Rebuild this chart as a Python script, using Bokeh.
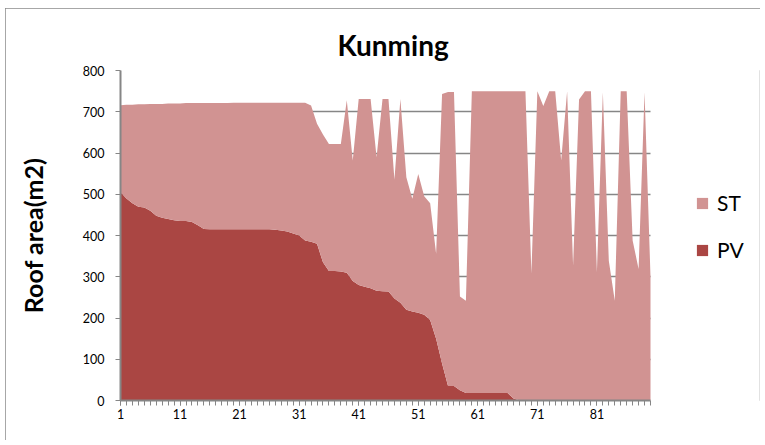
from bokeh.plotting import figure
from bokeh.models import ColumnDataSource, Range1d, FixedTicker, Legend, LegendItem
from bokeh.embed import file_html
from bokeh.resources import INLINE

# ---- data ----
x_index = list(range(1, 91))
PV = [505, 490, 478, 470, 468, 460, 448, 443, 440, 437,
      435, 435, 433, 425, 416, 415, 415, 415, 415, 415,
      415, 415, 415, 415, 415, 415, 414, 412, 410, 405,
      400, 388, 385, 380, 335, 314, 314, 313, 310, 290,
      280, 276, 272, 266, 265, 264, 247, 237, 220, 216,
      213, 208, 195, 150, 90, 35, 35, 25, 18, 18,
      18, 18, 18, 18, 18, 18, 5, 0, 0, 0,
      0, 0, 0, 0, 0, 0, 0, 0, 0, 0,
      0, 0, 0, 0, 0, 0, 0, 0, 0, 0]
ST = [211, 227, 239, 248, 250, 259, 271, 276, 280, 283,
      285, 286, 288, 296, 305, 306, 306, 306, 306, 307,
      307, 307, 307, 307, 307, 307, 308, 310, 312, 317,
      322, 334, 330, 291, 310, 308, 308, 309, 418, 292,
      451, 455, 459, 324, 466, 467, 288, 494, 321, 273,
      336, 287, 283, 206, 653, 713, 713, 227, 224, 732,
      732, 732, 732, 732, 732, 732, 745, 750, 750, 308,
      750, 714, 750, 750, 582, 750, 327, 730, 750, 750,
      311, 747, 339, 242, 750, 750, 388, 319, 747, 300]
x_tick_values = [1, 11, 21, 31, 41, 51, 61, 71, 81]
x_tick_labels = ["1", "11", "21", "31", "41", "51", "61", "71", "81"]
y_ticks = [0, 100, 200, 300, 400, 500, 600, 700, 800]
series_colors = {"ST": "#D19392", "PV": "#AA4643"}

source = ColumnDataSource(data=dict(x=x_index, PV=PV, ST=ST))

FONT = "Lato"
GRAY = "#868686"

# layout (pixels)
W, H = 755, 432
LEFT, RIGHT, TOP, BOTTOM = 115, 1, 62, 40
DATA_PX = 530                      # pixel width of the data span
frame_w = W - LEFT - RIGHT
x0, x1 = x_index[0], x_index[-1]
x_end = x0 + (x1 - x0) * frame_w / DATA_PX

p = figure(width=W, height=H, output_backend="svg", toolbar_location=None,
           x_range=Range1d(x0, x_end), y_range=Range1d(0, 800),
           min_border_left=LEFT, min_border_right=RIGHT, min_border_top=TOP,
           min_border_bottom=BOTTOM, title="Kunming")
p.styles = {"outline": "1px solid #8a8a8a", "outline-offset": "-1px",
            "margin-left": "5px", "margin-top": "8px"}

p.title.align = "left"
p.title.offset = 217
p.title.standoff = 17
p.title.text_font = FONT
p.title.text_font_size = "28px"
p.title.text_font_style = "bold"
p.title.text_color = "black"

p.outline_line_color = None
p.background_fill_color = "white"
p.border_fill_color = "white"

renderers = p.varea_stack(["PV", "ST"], x="x", source=source,
                          color=[series_colors["PV"], series_colors["ST"]])

# grid
p.xgrid.grid_line_color = None
p.ygrid.ticker = FixedTicker(ticks=y_ticks)
p.ygrid.grid_line_color = GRAY
p.ygrid.grid_line_width = 1.5
p.ygrid.cross_bounds = (x0, x1)

# y axis
p.yaxis.ticker = FixedTicker(ticks=y_ticks)
p.yaxis.axis_label = "Roof area(m2)"
p.yaxis.axis_label_text_font = FONT
p.yaxis.axis_label_text_font_size = "25px"
p.yaxis.axis_label_text_font_style = "bold"
p.yaxis.axis_label_text_color = "black"
p.yaxis.axis_label_standoff = 32
p.yaxis.major_label_text_font = FONT
p.yaxis.major_label_text_font_size = "12.5px"
p.yaxis.major_label_text_color = "black"
p.yaxis.major_label_standoff = 11
p.yaxis.axis_line_color = GRAY
p.yaxis.axis_line_width = 2
p.yaxis.major_tick_line_color = GRAY
p.yaxis.major_tick_out = 5
p.yaxis.major_tick_in = 0
p.yaxis.minor_tick_line_color = None

# x axis
p.xaxis.bounds = (x0, x1)
p.xaxis.ticker = FixedTicker(ticks=x_tick_values, minor_ticks=x_index)
p.xaxis.major_label_overrides = {v: l for v, l in zip(x_tick_values, x_tick_labels)}
p.xaxis.major_label_text_font = FONT
p.xaxis.major_label_text_font_size = "12.5px"
p.xaxis.major_label_text_color = "black"
p.xaxis.major_label_standoff = 3
p.xaxis.axis_line_color = GRAY
p.xaxis.axis_line_width = 2
p.xaxis.major_tick_line_color = GRAY
p.xaxis.minor_tick_line_color = GRAY
p.xaxis.major_tick_out = 5
p.xaxis.major_tick_in = 0
p.xaxis.minor_tick_out = 5
p.xaxis.minor_tick_in = 0

legend = Legend(items=[LegendItem(label="ST", renderers=[renderers[1]]),
                       LegendItem(label="PV", renderers=[renderers[0]])],
                location=(575, 138), orientation="vertical",
                glyph_width=14, glyph_height=14, label_height=20,
                spacing=22, padding=0, margin=0, label_standoff=8,
                label_text_font=FONT, label_text_font_size="21px",
                label_text_color="black",
                border_line_color=None, background_fill_alpha=0)
p.add_layout(legend, "center")

html = file_html(p, INLINE)
open("out.html", "w").write(html)
